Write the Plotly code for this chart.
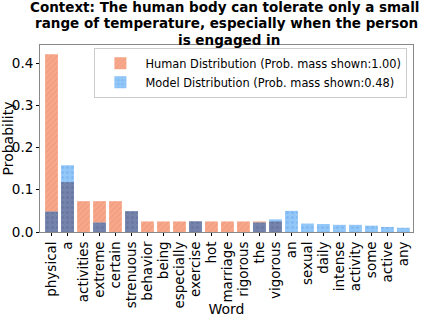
import plotly.graph_objects as go
import numpy as np

words = ["physical", "a", "activities", "extreme", "certain", "strenuous", "behavior",
         "being", "especially", "exercise", "hot", "marriage", "rigorous", "the",
         "vigorous", "an", "sexual", "daily", "intense", "activity", "some", "active", "any"]
human = [0.421, 0.118, 0.073, 0.073, 0.073, 0.049, 0.025, 0.025, 0.025, 0.025,
         0.025, 0.025, 0.025, 0.025, 0.025, 0, 0, 0, 0, 0, 0, 0, 0]
model = [0.048, 0.158, 0, 0.022, 0, 0.049, 0, 0, 0, 0.025, 0, 0, 0, 0.022,
         0.030, 0.050, 0.020, 0.019, 0.017, 0.017, 0.015, 0.012, 0.010]
overlap = list(np.minimum(human, model))
yticks = [0, 0.1, 0.2, 0.3, 0.4]
title_lines = ["Context: The human body can tolerate only a small",
               "range of temperature, especially when the person",
               "is engaged in"]

FONT = "DejaVu Sans"

fig = go.Figure()
fig.add_trace(go.Bar(
    x=words, y=human, name="Human Distribution (Prob. mass shown:1.00)",
    marker=dict(color="#F7A88B", line=dict(width=0),
                pattern=dict(shape="/", fgcolor="#E8876A", size=4, solidity=0.25)),
    width=0.8))
fig.add_trace(go.Bar(
    x=words, y=model, name="Model Distribution (Prob. mass shown:0.48)",
    marker=dict(color="#93C7F7", line=dict(width=0),
                pattern=dict(shape=".", fgcolor="#6AAAF0", size=5, solidity=0.3)),
    width=0.8))
fig.add_trace(go.Bar(
    x=words, y=overlap, showlegend=False, hoverinfo="skip",
    marker=dict(color="#7483AA", line=dict(width=0),
                pattern=dict(shape=".", fgcolor="#5D6C96", size=5, solidity=0.3)),
    width=0.8))

# title lines as annotations (paper coords above the plot area)
title_pos = [(0.4946, 1.203), (0.501, 1.115), (0.507, 1.027)]
for line, (tx, ty) in zip(title_lines, title_pos):
    fig.add_annotation(text="<b>" + line + "</b>", xref="paper", yref="paper",
                       x=tx, y=ty, xanchor="center", yanchor="middle", showarrow=False,
                       font=dict(family=FONT, size=13.5, color="black"))

fig.update_layout(
    width=425, height=317,
    barmode="overlay",
    plot_bgcolor="white", paper_bgcolor="white",
    margin=dict(l=40, r=12, t=45, b=85, autoexpand=False),
    font=dict(family=FONT, size=13, color="black"),
    legend=dict(x=0.985, xanchor="right", y=0.985, yanchor="top",
                bgcolor="rgba(255,255,255,0.8)", bordercolor="#CCCCCC", borderwidth=1,
                font=dict(family=FONT, size=11.4), tracegroupgap=2, itemwidth=40),
    showlegend=True,
)
fig.update_xaxes(
    title=dict(text="Word", font=dict(size=14), standoff=1),
    tickmode="array", tickvals=words, ticktext=words,
    tickangle=-90, tickfont=dict(size=13.5), automargin=False,
    showline=True, linecolor="#888888", mirror=True, linewidth=1,
    ticks="outside", ticklen=3, tickcolor="black",
    range=[-0.72, 22.6])
fig.update_yaxes(
    title=dict(text="Probability", font=dict(size=14), standoff=3),
    range=[0, 0.4426], tickmode="array", tickvals=yticks, tickformat=".1f",
    tickfont=dict(size=13.5), automargin=False,
    showline=True, linecolor="#888888", mirror=True, linewidth=1,
    ticks="outside", ticklen=3, tickcolor="black",
    showgrid=False, zeroline=False)

fig.write_html("out.html", config={"displayModeBar": False},
               post_script="document.body.style.margin='0';document.body.style.overflow='hidden';")
